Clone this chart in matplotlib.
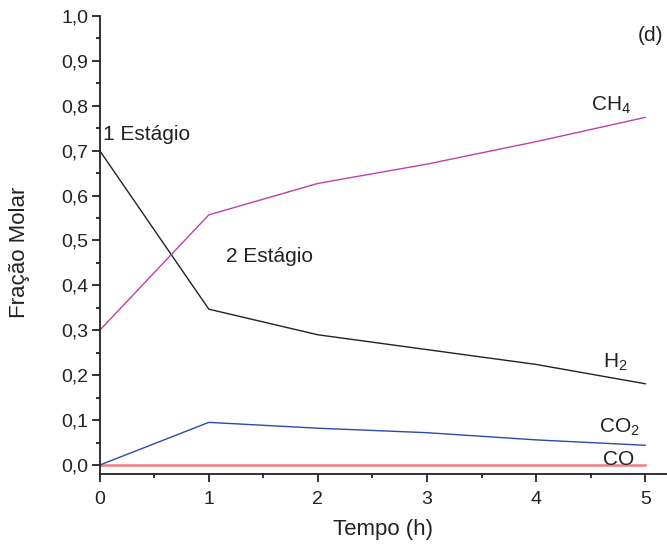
import matplotlib
matplotlib.use("Agg")
import matplotlib.pyplot as plt
from matplotlib.ticker import MultipleLocator, FuncFormatter

plt.rcParams['font.family'] = ['Liberation Sans', 'DejaVu Sans']

tempo = [0, 1, 2, 3, 4, 5]
h2 = [0.70, 0.347, 0.290, 0.257, 0.224, 0.181]
ch4 = [0.30, 0.557, 0.627, 0.670, 0.720, 0.774]
co2 = [0.0, 0.095, 0.082, 0.072, 0.056, 0.044]
co = [0.0, 0.0, 0.0, 0.0, 0.0, 0.0]

fig = plt.figure(figsize=(6.67, 5.48), dpi=100)
ax = fig.add_axes([0.1495, 0.135, 0.8505, 0.836])

ax.plot(tempo, co, color='#f47c7c', lw=1.8)
ax.plot(tempo, co2, color='#2a4aa8', lw=1.0)
ax.plot(tempo, h2, color='#222222', lw=1.0)
ax.plot(tempo, ch4, color='#c040a8', lw=1.0)

ax.set_xlim(0, 5.2)
ax.set_ylim(-0.02, 1.0)
ax.spines['top'].set_visible(False)
ax.spines['right'].set_visible(False)
for s in ('left', 'bottom'):
    ax.spines[s].set_linewidth(1.3)
    ax.spines[s].set_color('#222222')

ax.xaxis.set_major_locator(MultipleLocator(1))
ax.xaxis.set_minor_locator(MultipleLocator(0.5))
ax.yaxis.set_major_locator(MultipleLocator(0.1))
ax.yaxis.set_minor_locator(MultipleLocator(0.05))
ax.yaxis.set_major_formatter(FuncFormatter(lambda v, p: f"{v:.1f}".replace('.', ',')))
ax.tick_params(which='major', length=6, width=1.3, labelsize=14, colors='#222222')
ax.tick_params(which='minor', length=3, width=1.3, colors='#222222')
ax.tick_params(axis='y', which='major', pad=2)
ax.tick_params(axis='x', which='major', pad=6)

ax.set_xlabel('Tempo (h)', fontsize=16, color='#222222', labelpad=8)
ax.set_ylabel('Fração Molar', fontsize=16, color='#222222')
ax.yaxis.set_label_coords(-0.123, 0.483)

tk = dict(fontsize=15, color='#222222')
ax.text(4.50, 0.79, r'CH$_\mathregular{4}$', **tk)
ax.text(4.61, 0.218, r'H$_\mathregular{2}$', **tk)
ax.text(4.58, 0.073, r'CO$_\mathregular{2}$', **tk)
ax.text(4.61, 0.0, 'CO', **tk)
ax.text(4.93, 0.944, '(d)', **tk)
ax.text(0.03, 0.724, '1 Estágio', **tk)
ax.text(1.16, 0.451, '2 Estágio', **tk)

fig.savefig('out.png', dpi=100)
